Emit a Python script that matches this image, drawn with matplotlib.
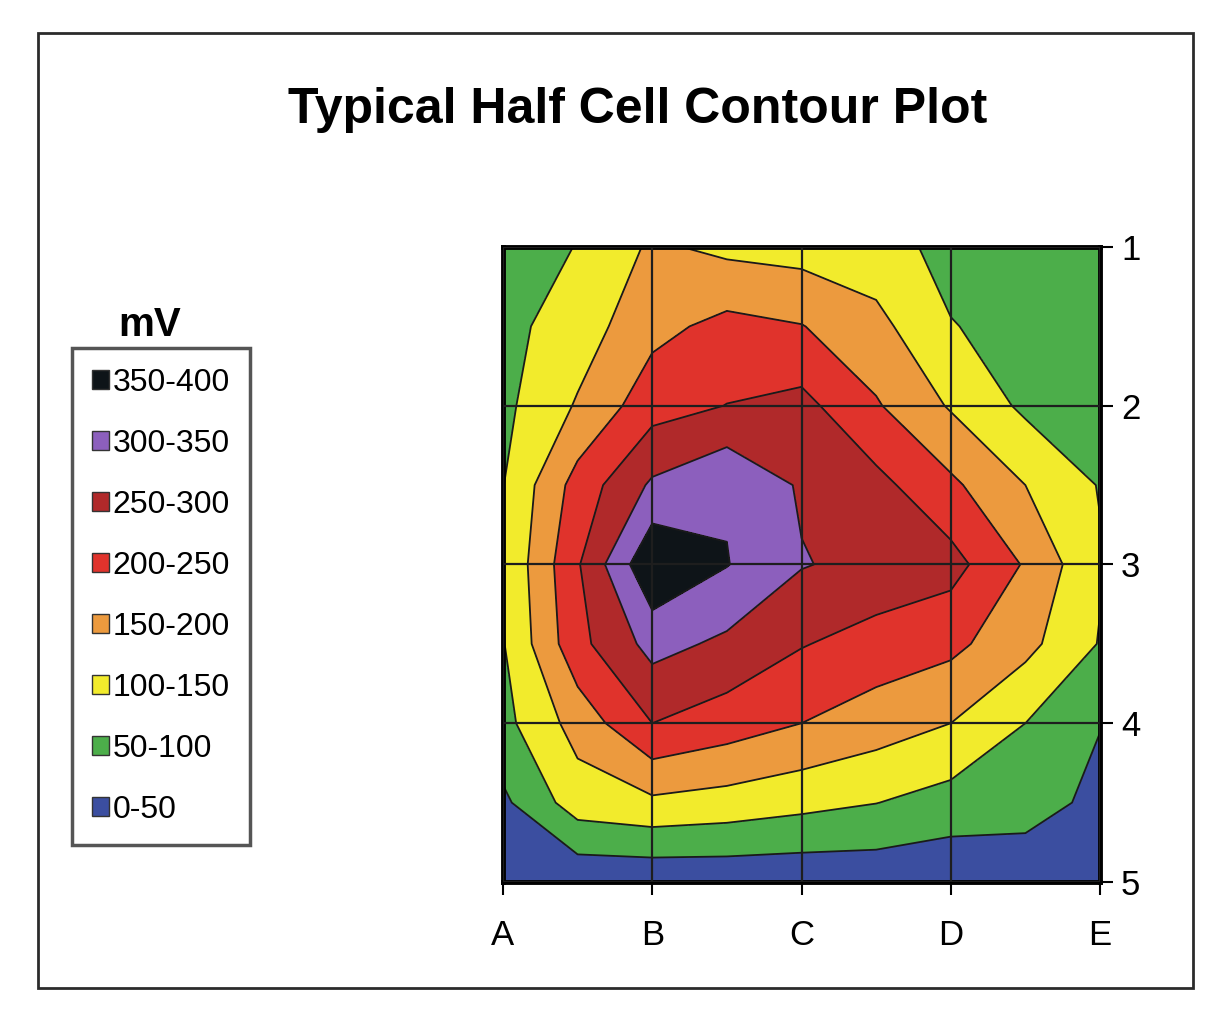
import numpy as np
import matplotlib.pyplot as plt
from matplotlib.patches import Patch, Rectangle

plt.rcParams['font.family'] = ['Liberation Sans', 'DejaVu Sans']

columns = ['A', 'B', 'C', 'D', 'E']
rows = ['1', '2', '3', '4', '5']
levels = [0, 50, 100, 150, 200, 250, 300, 350, 400]
band_labels = ['0-50', '50-100', '100-150', '150-200',
               '200-250', '250-300', '300-350', '350-400']
band_colors = ['#3b4ea0', '#4cae4a', '#f2eb2c', '#ec9a3e',
               '#e0332c', '#b0292a', '#8c5fbd', '#0e1418']

# half cell potential readings (mV) taken every half grid step, A..E left to right
row_1_0 = [70, 102, 158, 138, 130, 120, 85, 80, 75]
row_1_5 = [85, 125, 185, 215, 202, 165, 102, 85, 80]
row_2_0 = [88, 155, 230, 251, 265, 205, 145, 90, 80]
row_2_5 = [98.5, 220, 308, 345, 294, 265, 210, 150, 97]
row_3_0 = [103, 245, 395, 352, 303, 285, 268, 195, 105]
row_3_5 = [97, 235, 317, 290, 253, 230, 213, 165, 97]
row_4_0 = [85, 170, 250, 225, 200, 175, 150, 100, 52]
row_4_5 = [40, 125, 140, 130, 115, 101, 80, 75, 35]
row_5_0 = [15, 10, 10, 12, 12, 15, 10, 10, 15]

potential = np.array([row_1_0, row_1_5, row_2_0, row_2_5, row_3_0,
                      row_3_5, row_4_0, row_4_5, row_5_0])
gx = np.linspace(0, len(columns) - 1, potential.shape[1])
gy = np.linspace(0, len(rows) - 1, potential.shape[0])

fig = plt.figure(figsize=(12.28, 10.16), dpi=100)
fig.patches.append(Rectangle((38 / 1228, 1 - 988 / 1016), 1155 / 1228, 955 / 1016,
                             transform=fig.transFigure, fill=False,
                             edgecolor='#2b2b2b', linewidth=2))

ax = fig.add_axes([0.4096, 0.1319, 0.4862, 0.625])
ax.contourf(gx, gy, potential, levels=levels, colors=band_colors)
ax.contour(gx, gy, potential, levels=levels[1:-1], colors='#1a1a1a', linewidths=1.3)
ax.set_xlim(0, len(columns) - 1)
ax.set_ylim(len(rows) - 1, 0)
ax.set_xticks(range(len(columns)), columns)
ax.set_yticks(range(len(rows)), rows)
ax.yaxis.tick_right()
ax.grid(True, color='#1e1e1e', linewidth=1.6)
ax.set_axisbelow(False)
for s in ax.spines.values():
    s.set_linewidth(3.5)
ax.tick_params(labelsize=25, length=9, width=1.5, direction='out')
ax.tick_params(axis='x', pad=18)
ax.tick_params(axis='y', pad=6)

fig.text(0.519, 0.892, 'Typical Half Cell Contour Plot', ha='center', va='center',
         fontsize=36, fontweight='bold')
fig.text(0.122, 0.680, 'mV', ha='center', va='center', fontsize=29, fontweight='bold')

handles = [Patch(facecolor=c, edgecolor='#333333', linewidth=1) for c in band_colors]
leg = fig.legend(handles[::-1], band_labels[::-1], loc='upper left',
                 bbox_to_anchor=(72 / 1228, 1 - 348 / 1016), fontsize=23,
                 handlelength=0.55, handleheight=0.55, handletextpad=0.1,
                 labelspacing=0.97, borderpad=0.62, borderaxespad=0,
                 fancybox=False, edgecolor='#555555', framealpha=1)
leg.get_frame().set_linewidth(2.5)

fig.savefig('out.png', dpi=100)
